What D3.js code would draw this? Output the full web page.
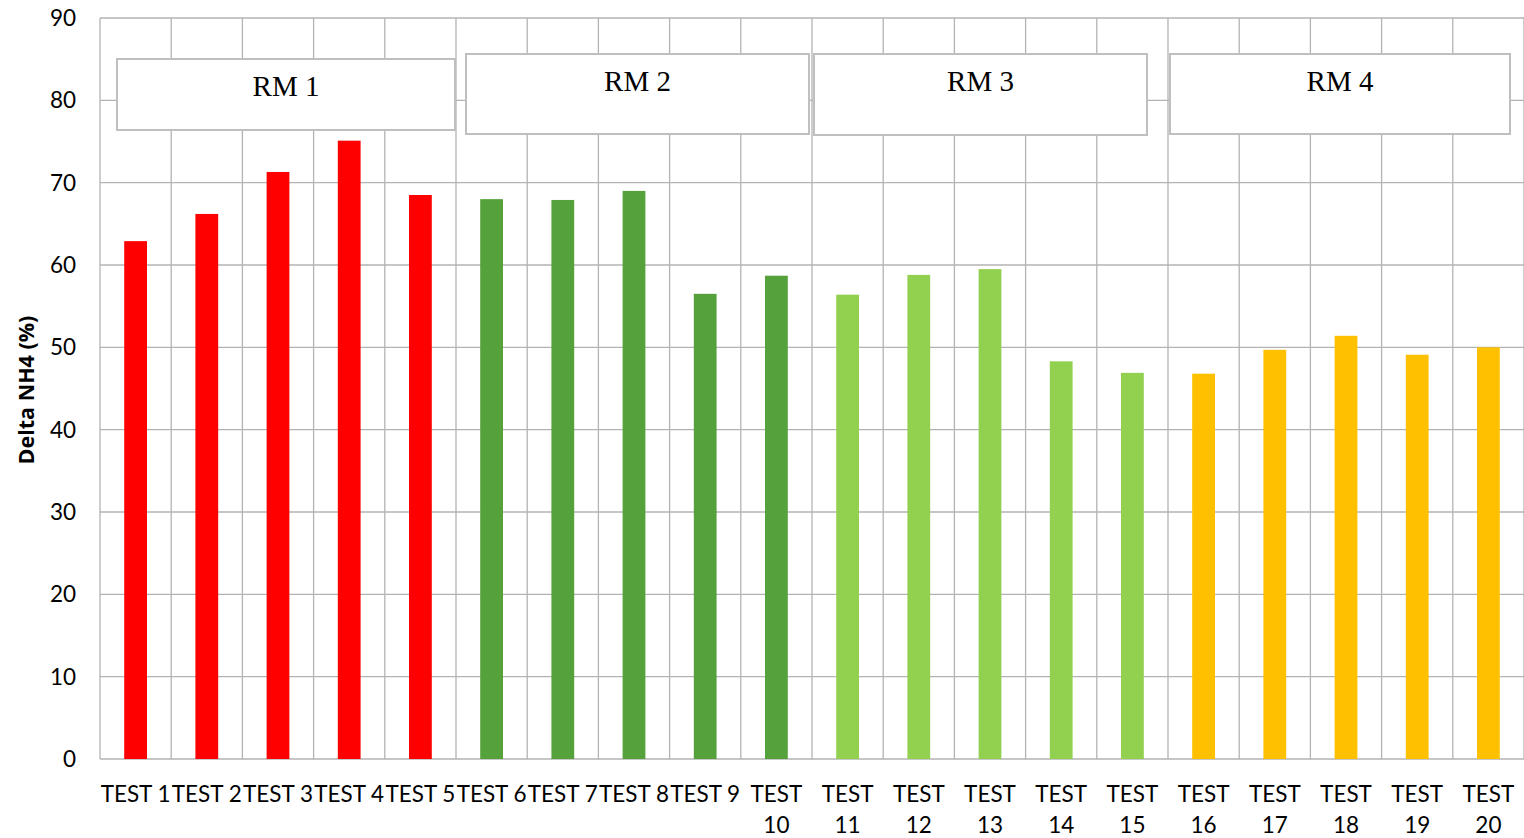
<!DOCTYPE html>
<html>
<head>
<meta charset="utf-8">
<script src="https://cdn.jsdelivr.net/npm/d3@7"></script>
<style>
  html, body { margin: 0; padding: 0; background: #fff; }
  svg { display: block; }
</style>
</head>
<body>
<svg id="chart" width="1524" height="838"></svg>
<script>
// Test names and measured ammonium change per test
const categories = ["TEST 1","TEST 2","TEST 3","TEST 4","TEST 5","TEST 6","TEST 7","TEST 8","TEST 9","TEST 10",
  "TEST 11","TEST 12","TEST 13","TEST 14","TEST 15","TEST 16","TEST 17","TEST 18","TEST 19","TEST 20"];
const values = [62.9, 66.2, 71.3, 75.1, 68.5, 68.0, 67.9, 69.0, 56.5, 58.7,
  56.4, 58.8, 59.5, 48.3, 46.9, 46.8, 49.7, 51.4, 49.1, 50.0];
// Raw material group each test belongs to (index into groupLabels)
const groupOf = [0,0,0,0,0, 1,1,1,1,1, 2,2,2,2,2, 3,3,3,3,3];
const groupLabels = ["RM 1", "RM 2", "RM 3", "RM 4"];
const groupColors = ["#ff0000", "#55a13b", "#92d050", "#ffc000"];
const yTicks = [0, 10, 20, 30, 40, 50, 60, 70, 80, 90];
const yTitle = "Delta NH4 (%)";

const svg = d3.select("#chart");
const plotLeft = 100, plotRight = 1524, plotTop = 18, plotBottom = 759;

const x = d3.scaleBand().domain(categories).range([plotLeft, plotRight]).paddingInner(0).paddingOuter(0);
const y = d3.scaleLinear().domain([0, 90]).range([plotBottom, plotTop]);
const step = x.step();
const barW = step * 0.32;
const grid = "#b3b3b3";

// Horizontal gridlines
svg.append("g").selectAll("line").data(yTicks).join("line")
  .attr("x1", plotLeft).attr("x2", plotRight)
  .attr("y1", d => y(d)).attr("y2", d => y(d))
  .attr("stroke", grid).attr("stroke-width", 1.3);

// Vertical gridlines at category boundaries
const bounds = d3.range(categories.length + 1).map(i => plotLeft + i * step);
svg.append("g").selectAll("line").data(bounds).join("line")
  .attr("x1", d => d).attr("x2", d => d)
  .attr("y1", plotTop).attr("y2", plotBottom)
  .attr("stroke", grid).attr("stroke-width", 1.3);

// Y axis tick labels
svg.append("g").selectAll("text").data(yTicks).join("text")
  .attr("x", 76).attr("y", d => y(d) + 8)
  .attr("text-anchor", "end")
  .attr("font-family", "Lato, 'Open Sans', sans-serif")
  .attr("font-size", 22.5).attr("fill", "#000")
  .text(d => d);

// Y axis title
svg.append("text")
  .attr("transform", "translate(34,390) rotate(-90)")
  .attr("text-anchor", "middle")
  .attr("font-family", "'Open Sans', 'Noto Sans', sans-serif")
  .attr("font-weight", "bold").attr("font-size", 21.5).attr("fill", "#000")
  .text(yTitle);

// Bars
svg.append("g").selectAll("rect").data(categories).join("rect")
  .attr("x", d => x(d) + (step - barW) / 2)
  .attr("width", barW)
  .attr("y", (d, i) => y(values[i]))
  .attr("height", (d, i) => y(0) - y(values[i]))
  .attr("fill", (d, i) => groupColors[groupOf[i]]);

// X axis labels; two-digit tests wrap onto a second line
const xl = svg.append("g").attr("font-family", "Lato, 'Open Sans', sans-serif")
  .attr("font-size", 22.5).attr("fill", "#000");
categories.forEach((c, i) => {
  const cx = x(c) + step / 2;
  const parts = c.split(" ");
  if (parts[1].length > 1) {
    xl.append("text").attr("x", cx).attr("y", 802).attr("text-anchor", "middle").text(parts[0]);
    xl.append("text").attr("x", cx).attr("y", 833).attr("text-anchor", "middle").text(parts[1]);
  } else {
    xl.append("text").attr("x", cx).attr("y", 802).attr("text-anchor", "middle").text(c);
  }
});

// Group annotation boxes spanning each raw-material's tests
// (left/right insets from the group's first/last band edge, top/bottom in px)
const boxInsets = [
  { l: 17, r: 1,  t: 59, b: 130 },
  { l: 10, r: 3,  t: 54, b: 134 },
  { l: 2,  r: 21, t: 54, b: 135 },
  { l: 2,  r: 14, t: 54, b: 134 }
];
const boxes = svg.append("g");
groupLabels.forEach((g, gi) => {
  const idx = groupOf.map((v, i) => v === gi ? i : -1).filter(i => i >= 0);
  const ins = boxInsets[gi];
  const x0 = x(categories[idx[0]]) + ins.l;
  const x1 = x(categories[idx[idx.length - 1]]) + step - ins.r;
  boxes.append("rect")
    .attr("x", x0).attr("y", ins.t).attr("width", x1 - x0).attr("height", ins.b - ins.t)
    .attr("fill", "#fff").attr("stroke", "#bfbfbf").attr("stroke-width", 2);
  boxes.append("text")
    .attr("x", (x0 + x1) / 2).attr("y", ins.t + 37)
    .attr("text-anchor", "middle")
    .attr("font-family", "'Liberation Serif', 'Times New Roman', serif")
    .attr("font-size", 29).attr("fill", "#000")
    .text(g);
});
</script>
</body>
</html>
